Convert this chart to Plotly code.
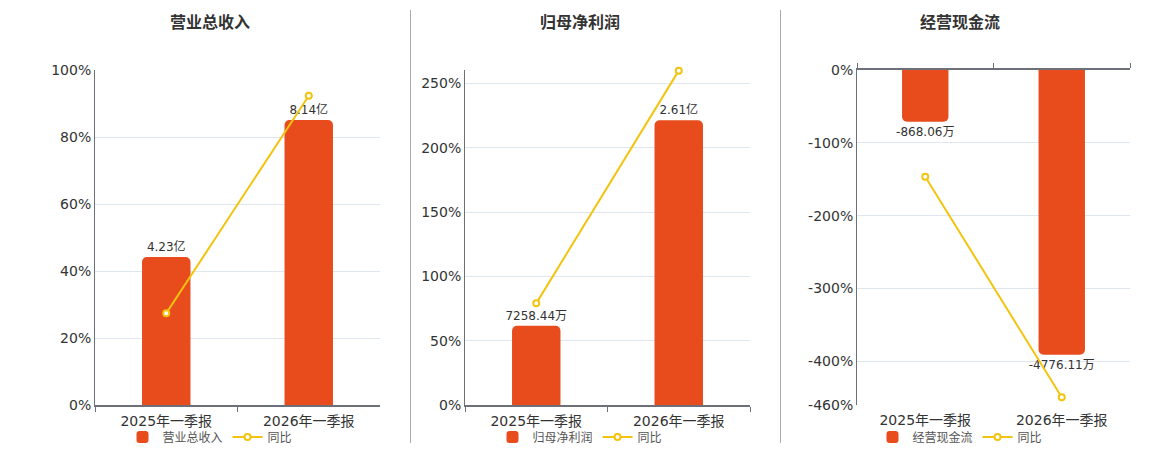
import plotly.graph_objects as go

# 数据
periods = ["2025年一季报", "2026年一季报"]

revenue = [4.23, 8.14]  # 亿
revenue_text = ["4.23亿", "8.14亿"]
revenue_yoy = [27.4, 92.3]  # %

profit = [0.725844, 2.61]  # 亿
profit_text = ["7258.44万", "2.61亿"]
profit_yoy = [79.0, 259.9]  # %

cashflow = [-868.06, -4776.11]  # 万
cashflow_text = ["-868.06万", "-4776.11万"]
cashflow_yoy = [-146.5, -449.4]  # %

titles = ["营业总收入", "归母净利润", "经营现金流"]

pct_ticks_1 = [0, 20, 40, 60, 80, 100]
pct_ticks_2 = [0, 50, 100, 150, 200, 250]
pct_ticks_3 = [0, -100, -200, -300, -400, -460]

BAR_COLOR = "#e84c1d"
LINE_COLOR = "#f2c40f"
AXIS_COLOR = "#6e7079"
GRID_COLOR = "#e0e6f1"
FONT = "DejaVu Sans, Noto Sans CJK SC, sans-serif"

W, H = 1160, 450
OFF = 8  # 页面 body 的默认边距


def px_x(x):
    return (x - OFF) / W


def px_y(y):
    return 1 - (y - OFF) / H


y_dom = [px_y(405), px_y(70)]
x_doms = [[px_x(95), px_x(380)], [px_x(465), px_x(750)], [px_x(857), px_x(1130)]]
centers = [px_x(210), px_x(580), px_x(960)]

fig = go.Figure()


def add_bar(values, texts, name, xa, ya, legend):
    fig.add_trace(
        go.Bar(
            x=periods,
            y=values,
            name=name,
            text=texts,
            texttemplate="%{text}",
            textposition="outside",
            constraintext="none",
            cliponaxis=False,
            textfont=dict(size=12, color="#333"),
            marker=dict(color=BAR_COLOR, cornerradius=5),
            width=0.34,
            xaxis=xa,
            yaxis=ya,
            legend=legend,
        )
    )


def add_line(values, xa, ya, legend):
    fig.add_trace(
        go.Scatter(
            x=periods,
            y=values,
            name="同比",
            mode="lines+markers",
            line=dict(color=LINE_COLOR, width=2),
            marker=dict(size=6, color="white", line=dict(color=LINE_COLOR, width=2)),
            cliponaxis=False,
            xaxis=xa,
            yaxis=ya,
            legend=legend,
        )
    )


# 图1 营业总收入
add_bar(revenue, revenue_text, titles[0], "x", "y", "legend")
add_line(revenue_yoy, "x", "y4", "legend")
# 图2 归母净利润
add_bar(profit, profit_text, titles[1], "x2", "y2", "legend2")
add_line(profit_yoy, "x2", "y5", "legend2")
# 图3 经营现金流
add_bar(cashflow, cashflow_text, titles[2], "x3", "y3", "legend3")
add_line(cashflow_yoy, "x6", "y6", "legend3")

cat_axis = dict(
    type="category",
    categoryorder="array",
    categoryarray=periods,
    range=[-0.5, 1.5],
    tickfont=dict(size=14, color="#333"),
    ticklabelstandoff=2,
    showgrid=False,
    zeroline=False,
    automargin=False,
    fixedrange=True,
)


def pct_axis(ticks, rng, overlay):
    return dict(
        tickmode="array",
        tickvals=ticks,
        ticktext=[f"{v}%" for v in ticks],
        range=rng,
        overlaying=overlay,
        anchor="x" if overlay == "y" else "x" + overlay[1:],
        tickfont=dict(size=14, color="#333"),
        showgrid=True,
        gridcolor=GRID_COLOR,
        zeroline=False,
        showline=True,
        linecolor=AXIS_COLOR,
        linewidth=1,
        side="left",
        domain=y_dom,
        automargin=False,
    )


bar_axis = dict(visible=False, domain=y_dom, zeroline=False, showgrid=False, automargin=False)
x_line = dict(showline=True, linecolor=AXIS_COLOR, linewidth=1.5, ticks="outside",
              tickson="boundaries", ticklen=5, tickcolor=AXIS_COLOR)

fig.update_layout(
    template="none",
    width=W,
    height=H,
    margin=dict(l=0, r=0, t=0, b=0, pad=0, autoexpand=False),
    paper_bgcolor="white",
    plot_bgcolor="white",
    font=dict(family=FONT, color="#333"),
    hovermode=False,
    # 图1
    xaxis=dict(cat_axis, domain=x_doms[0], anchor="y", **x_line),
    yaxis=dict(bar_axis, anchor="x", range=[0, 9.57]),
    yaxis4=pct_axis(pct_ticks_1, [0, 100], "y"),
    # 图2
    xaxis2=dict(cat_axis, domain=x_doms[1], anchor="y2", **x_line),
    yaxis2=dict(bar_axis, anchor="x2", range=[0, 3.07]),
    yaxis5=pct_axis(pct_ticks_2, [0, 260.4], "y2"),
    # 图3 (轴线在顶部 0% 处)
    xaxis3=dict(cat_axis, domain=x_doms[2], anchor="y3", side="top", showticklabels=False, **x_line),
    yaxis3=dict(bar_axis, anchor="x3", range=[-5620, 0]),
    xaxis6=dict(cat_axis, overlaying="x3", anchor="y3", side="bottom", showline=False, ticks="",
                ticklabelstandoff=5),
    yaxis6=pct_axis(pct_ticks_3, [-460, 0], "y3"),
)

# 图例
for i, key in enumerate(["legend", "legend2", "legend3"]):
    fig.update_layout({
        key: dict(
            orientation="h",
            x=centers[i],
            xanchor="center",
            y=px_y(437),
            yanchor="middle",
            font=dict(size=12, color="#555"),
            bgcolor="rgba(0,0,0,0)",
            itemwidth=30,
        )
    })

# 标题
for i, t in enumerate(titles):
    fig.add_annotation(
        text=f"<b>{t}</b>",
        x=centers[i],
        y=px_y(23),
        xref="paper",
        yref="paper",
        xanchor="center",
        yanchor="middle",
        showarrow=False,
        font=dict(size=16, color="#333"),
    )

# 分隔线
for xp in [410.5, 780.5]:
    fig.add_shape(
        type="line",
        xref="paper",
        yref="paper",
        x0=px_x(xp),
        x1=px_x(xp),
        y0=px_y(10),
        y1=px_y(443),
        line=dict(color="#aaaaaa", width=1),
    )

fig.write_html("out.html")
